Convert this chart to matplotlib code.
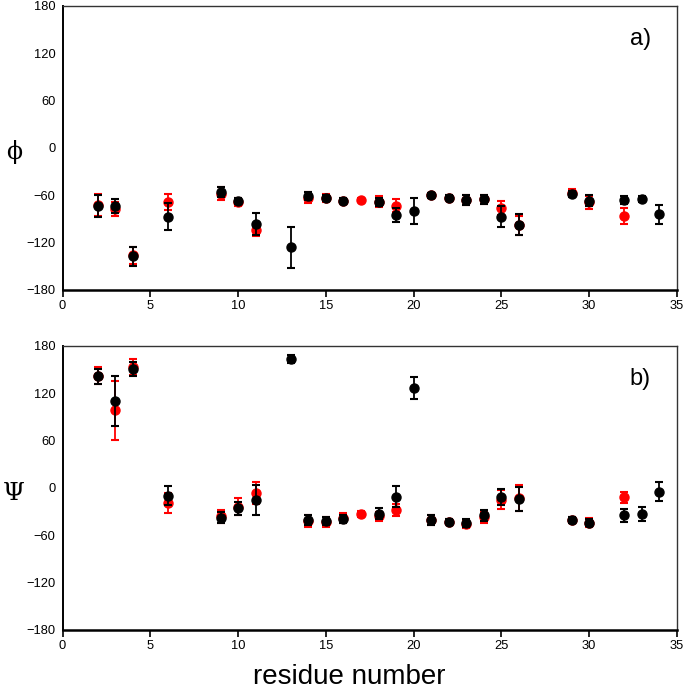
import matplotlib
matplotlib.use("Agg")
import matplotlib.pyplot as plt

# ---- data ----
res_phi_black = [2, 3, 4, 6, 9, 10, 11, 13, 14, 15, 16, 18, 19, 20, 21, 22, 23, 24, 25, 26, 29, 30, 32, 33, 34]
phi_black = [-74, -74, -137, -87, -56, -67, -96, -126, -61, -63, -67, -69, -85, -80, -60, -63, -66, -65, -87, -97, -58, -67, -66, -65, -84]
phi_black_err = [14, 9, 12, 17, 6, 4, 14, 26, 5, 4, 3, 5, 9, 16, 3, 3, 6, 6, 13, 13, 4, 7, 5, 4, 12]

res_phi_red = [2, 3, 4, 6, 9, 10, 11, 14, 15, 16, 17, 18, 19, 21, 22, 23, 24, 25, 26, 29, 30, 32]
phi_red = [-72, -77, -136, -68, -58, -68, -104, -63, -63, -67, -66, -68, -73, -60, -63, -66, -65, -76, -98, -57, -69, -86]
phi_red_err = [14, 9, 11, 10, 8, 5, 8, 7, 5, 3, 3, 7, 8, 3, 3, 6, 6, 9, 12, 5, 8, 10]

res_psi_black = [2, 3, 4, 6, 9, 10, 11, 13, 14, 15, 16, 18, 19, 20, 21, 22, 23, 24, 25, 26, 29, 30, 32, 33, 34]
psi_black = [141, 110, 150, -10, -38, -26, -15, 163, -41, -42, -39, -33, -11, 126, -41, -43, -45, -35, -12, -14, -41, -44, -35, -33, -5]
psi_black_err = [10, 32, 9, 12, 7, 8, 19, 5, 6, 5, 5, 7, 13, 14, 6, 3, 5, 7, 10, 15, 4, 4, 8, 9, 12]

res_psi_red = [2, 3, 4, 6, 9, 10, 11, 14, 15, 16, 17, 18, 19, 21, 22, 23, 24, 25, 26, 29, 30, 32]
psi_red = [142, 98, 153, -19, -36, -24, -7, -42, -43, -38, -33, -36, -28, -41, -43, -46, -37, -15, -13, -41, -44, -12]
psi_red_err = [11, 37, 10, 13, 8, 11, 14, 7, 6, 6, 4, 6, 8, 6, 3, 5, 7, 12, 16, 4, 6, 7]

x_ticks = [0, 5, 10, 15, 20, 25, 30, 35]
y_ticks = [-180, -120, -60, 0, 60, 120, 180]

plt.rcParams['font.family'] = ['Liberation Sans', 'DejaVu Sans']

fig = plt.figure(figsize=(6.85, 6.92), dpi=100)
ax1 = fig.add_axes([62.5 / 685, 1 - 290 / 692, (677 - 62.5) / 685, 284 / 692])
ax2 = fig.add_axes([62.5 / 685, 1 - 630 / 692, (677 - 62.5) / 685, 284.3 / 692])


def draw(ax, rr, yr, er, rb, yb, eb, tag):
    ax.errorbar(rr, yr, yerr=er, fmt='o', color='#ff0000', ecolor='#ff0000',
                markersize=6.5, capsize=3.2, elinewidth=1.3, capthick=1.5, zorder=2)
    ax.errorbar(rb, yb, yerr=eb, fmt='o', color='black', ecolor='black',
                markersize=6.5, capsize=3.2, elinewidth=1.3, capthick=1.5, zorder=3)
    ax.set_xlim(0, 35)
    ax.set_ylim(-180, 180)
    ax.set_xticks(x_ticks)
    ax.set_yticks(y_ticks)
    ax.tick_params(axis='x', direction='out', length=5, width=1.2, labelsize=9.3, pad=2)
    ax.tick_params(axis='y', length=0, labelsize=9.3, pad=5)
    for s in ['top', 'right']:
        ax.spines[s].set_linewidth(1.0)
        ax.spines[s].set_color('#333333')
    ax.spines['bottom'].set_linewidth(1.8)
    ax.spines['left'].set_linewidth(1.4)
    ax.text(0.94, 0.884, tag, transform=ax.transAxes,
            ha='center', va='center', fontsize=17)


draw(ax1, res_phi_red, phi_red, phi_red_err, res_phi_black, phi_black, phi_black_err, 'a)')
draw(ax2, res_psi_red, psi_red, psi_red_err, res_psi_black, psi_black, psi_black_err, 'b)')

fig.text(14 / 685, 1 - 152 / 692, 'ϕ', family='DejaVu Serif', fontsize=17, ha='center', va='center')
fig.text(14 / 685, 1 - 493 / 692, 'Ψ', family='DejaVu Serif', fontsize=18, ha='center', va='center')
fig.text(349 / 685, 1.5 / 692, 'residue number', fontsize=20, ha='center', va='bottom')

fig.savefig('out.png', dpi=100)
